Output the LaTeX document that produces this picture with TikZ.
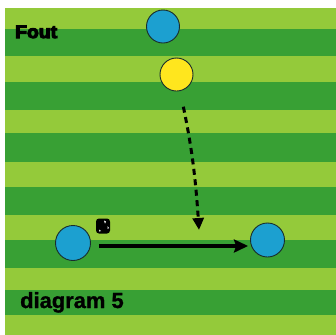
\documentclass[tikz,border=0pt]{standalone}
\usepackage{fontspec}
\setmainfont{Liberation Sans}
\newfontfamily\heavyfont[BoldFeatures={FakeBold=6}]{Liberation Sans}
\newfontfamily\semiheavyfont[BoldFeatures={FakeBold=1.2}]{Liberation Sans}
\usetikzlibrary{arrows.meta}
\definecolor{lightgrass}{RGB}{148,202,58}
\definecolor{darkgrass}{RGB}{56,160,52}
\definecolor{playerblue}{RGB}{28,160,208}
\definecolor{playeryellow}{RGB}{255,230,30}
\definecolor{rim}{RGB}{25,45,45}
\begin{document}
\begin{tikzpicture}[x=1bp,y=-1bp,
  player/.style={circle, draw=rim, line width=0.9bp, inner sep=0pt},
  passline/.style={line width=3.2bp, -{Stealth[length=14bp,width=13bp,inset=2bp]}},
  runline/.style={line width=3bp, dash pattern=on 6bp off 4.5bp, -{Triangle[length=12bp,width=11bp]}},
  label/.style={anchor=base west, inner sep=0pt, text=black}]
\useasboundingbox (0,0) rectangle (336,335);
\fill[white] (0,0) rectangle (336,335);
\fill[lightgrass] (5,7.5) rectangle (336,335);
\foreach \a/\b in {29/56, 82/110, 133/162, 187/215, 240/268, 290/315}
  \fill[darkgrass] (5,\a) rectangle (336,\b);
% players
\node[player, fill=playerblue, minimum size=33bp] (tb) at (163,26.5) {};
\node[player, fill=playeryellow, minimum size=33bp] (ye) at (176.5,74.5) {};
\node[player, fill=playerblue, minimum size=35bp] (lb) at (73,243) {};
\node[player, fill=playerblue, minimum size=34bp] (rb) at (267.5,240) {};
% ball
\node[rectangle, rounded corners=3bp, fill=black, minimum width=14bp, minimum height=15bp, inner sep=0pt] (ball) at (103,226) {};
\fill[white] (104,220.5) -- (106,221.5) -- (105,223.5) -- cycle;
\fill[white] (107.5,226) -- (109,228) -- (107.5,229) -- cycle;
\fill[white] (99.5,229.5) -- (101,231) -- (99,231.5) -- cycle;
% connectors
\coordinate (runend) at (199,230);
\draw[runline, shorten <=16bp] (ye) to[bend left=4] (runend);
\draw[passline, shorten <=8bp, shorten >=2bp] ([yshift=-3bp]lb.east) -- ([yshift=-3bp]lb.east -| rb.west);
% texts
\node[label, font=\heavyfont\fontsize{18}{18}\selectfont\bfseries] (fout) at (15,38) {\scalebox{1.08}[1]{Fout}};
\node[label, font=\semiheavyfont\fontsize{22}{22}\selectfont\bfseries] (cap) at (20,308) {diagram 5};
\end{tikzpicture}
\end{document}
